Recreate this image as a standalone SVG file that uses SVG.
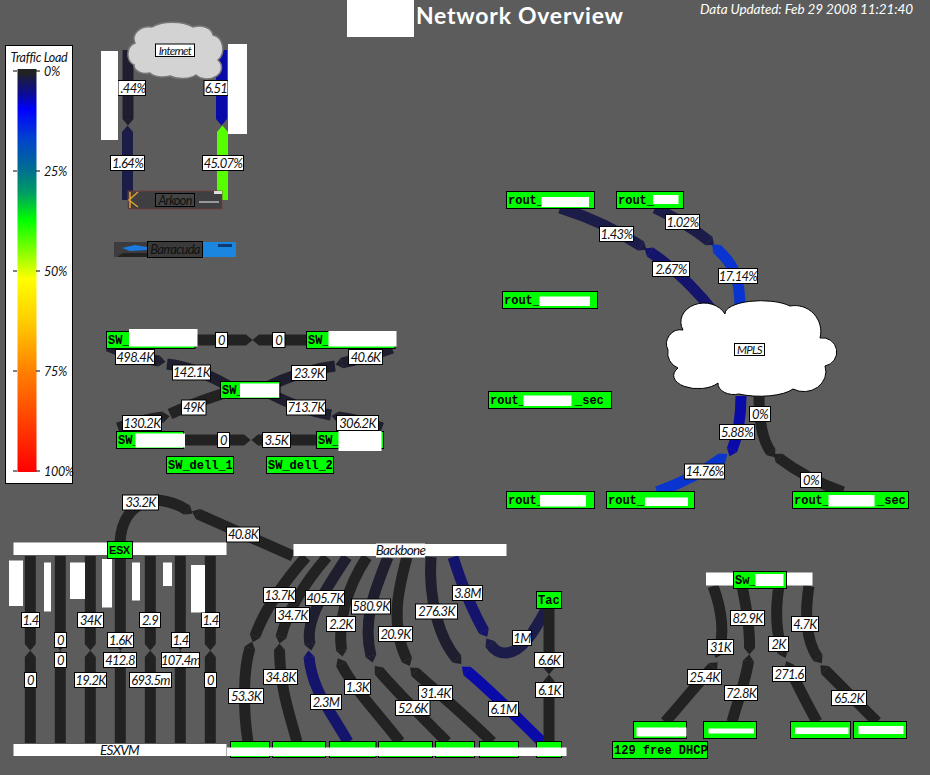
<svg xmlns="http://www.w3.org/2000/svg" width="930" height="775" viewBox="0 0 930 775">
<style>
text{font-family:"Lato","Liberation Sans",sans-serif}
.l{fill:none;stroke-width:11}
.dk{stroke:#222222;marker-end:url(#tdk)}
.n1{stroke:#1e1e2e;marker-end:url(#tn1)}
.n2{stroke:#1c1c48;marker-end:url(#tn2)}
.n3{stroke:#14146c;marker-end:url(#tn3)}
.b1{stroke:#0a0aa8;marker-end:url(#tb1)}
.b2{stroke:#0a34d0;marker-end:url(#tb2)}
.g1{stroke:#55ff00;marker-end:url(#tg1)}
.lb rect{fill:#fff;stroke:#000;stroke-width:1}
.lb text{font-size:13px;font-style:italic;fill:#111;text-anchor:middle;letter-spacing:-.7px}
.n rect.f{fill:#00ff00;stroke:#000;stroke-width:1}
.n text{font-family:"Liberation Mono","DejaVu Sans Mono",monospace;font-size:12px;font-weight:bold;fill:#000}
.m{fill:#fff}
.sub{font-size:13.5px;font-style:italic;fill:#111;text-anchor:middle;letter-spacing:-.7px}
.lg{font-size:12.5px;font-style:italic;fill:#111;letter-spacing:-.3px}
</style>
<defs>
<marker id="tdk" markerWidth="1" markerHeight="1" refX="0" refY=".5" viewBox="0 0 1 1" orient="auto" overflow="visible"><path d="M0 0L.6 .5L0 1Z" fill="#222222"/></marker>
<marker id="tn1" markerWidth="1" markerHeight="1" refX="0" refY=".5" viewBox="0 0 1 1" orient="auto" overflow="visible"><path d="M0 0L.6 .5L0 1Z" fill="#1e1e2e"/></marker>
<marker id="tn2" markerWidth="1" markerHeight="1" refX="0" refY=".5" viewBox="0 0 1 1" orient="auto" overflow="visible"><path d="M0 0L.6 .5L0 1Z" fill="#1c1c48"/></marker>
<marker id="tn3" markerWidth="1" markerHeight="1" refX="0" refY=".5" viewBox="0 0 1 1" orient="auto" overflow="visible"><path d="M0 0L.6 .5L0 1Z" fill="#14146c"/></marker>
<marker id="tb1" markerWidth="1" markerHeight="1" refX="0" refY=".5" viewBox="0 0 1 1" orient="auto" overflow="visible"><path d="M0 0L.6 .5L0 1Z" fill="#0a0aa8"/></marker>
<marker id="tb2" markerWidth="1" markerHeight="1" refX="0" refY=".5" viewBox="0 0 1 1" orient="auto" overflow="visible"><path d="M0 0L.6 .5L0 1Z" fill="#0a34d0"/></marker>
<marker id="tg1" markerWidth="1" markerHeight="1" refX="0" refY=".5" viewBox="0 0 1 1" orient="auto" overflow="visible"><path d="M0 0L.6 .5L0 1Z" fill="#55ff00"/></marker>
<linearGradient id="load" x1="0" y1="0" x2="0" y2="1">
<stop offset="0" stop-color="#222222"/><stop offset=".012" stop-color="#222222"/><stop offset=".02" stop-color="#1c1c40"/><stop offset=".06" stop-color="#0c0c90"/><stop offset=".1" stop-color="#0000ff"/><stop offset=".17" stop-color="#0040d0"/><stop offset=".25" stop-color="#006f90"/><stop offset=".31" stop-color="#00a060"/><stop offset=".375" stop-color="#00ff00"/><stop offset=".45" stop-color="#80ff00"/><stop offset=".52" stop-color="#ffff00"/><stop offset=".62" stop-color="#ffd000"/><stop offset=".75" stop-color="#ff8000"/><stop offset="1" stop-color="#ff0000"/>
</linearGradient>
</defs>
<rect width="930" height="775" fill="#5c5c5c"/>

<g id="title">
<rect x="347" y="0" width="67" height="37" fill="#fff"/>
<text x="416" y="24" font-size="23" font-weight="bold" fill="#fff" letter-spacing=".75">Network Overview</text>
<text x="700" y="14" font-size="13.5" font-style="italic" fill="#fff" letter-spacing="-.1">Data Updated: Feb 29 2008 11:21:40</text>
</g>

<g id="legend">
<rect x="5.500" y="45.500" width="67" height="438" fill="#fff" stroke="#000"/>
<text x="39" y="62" class="lg" text-anchor="middle">Traffic Load</text>
<rect x="17.500" y="69" width="19" height="403" fill="url(#load)"/>
<path d="M13 71H17M36 71H40M13 171H17M36 171H40M13 271H17M36 271H40M13 371H17M36 371H40M13 471H17M36 471H40" stroke="#000" fill="none"/>
<text x="44" y="75.500" class="lg">0%</text>
<text x="44" y="175.500" class="lg">25%</text>
<text x="44" y="275.500" class="lg">50%</text>
<text x="44" y="375.500" class="lg">75%</text>
<text x="44" y="475.500" class="lg">100%</text>
</g>

<g id="connectors">
<path class="l n1" d="M128 50V119"/>
<path class="l n2" d="M127.500 200V132"/>
<path class="l b1" d="M221.500 50V119"/>
<path class="l g1" d="M222.500 200V132"/>

<path class="l n2" d="M560 208Q605 222 641 246"/>
<path class="l n3" d="M716 315Q685 275 650 252"/>
<path class="l n2" d="M655 208Q685 222 709 241"/>
<path class="l b2" d="M740 308C740 280 735 265 717 249"/>
<path class="l b1" d="M741 396C741 420 738 435 732 450"/>
<path class="l b2" d="M657 492Q695 478 722 458"/>
<path class="l dk" d="M759 396C759 420 762 440 771 452"/>
<path class="l dk" d="M843 492Q805 478 779 458"/>

<path class="l dk" d="M195 340H246"/>
<path class="l dk" d="M307 340H259"/>
<path class="l n1" d="M108 346Q135 358 159 361"/>
<path class="l n1" d="M167 364Q200 368 235 390"/>
<path class="l n1" d="M392 348Q365 358 342 363"/>
<path class="l n1" d="M335 366Q300 370 265 388"/>
<path class="l dk" d="M118 428Q140 420 163 417"/>
<path class="l dk" d="M170 414Q200 400 235 390"/>
<path class="l n1" d="M382 428Q360 420 338 417"/>
<path class="l n1" d="M331 415Q300 410 265 391"/>
<path class="l dk" d="M183 440H244"/>
<path class="l dk" d="M317 440H258"/>

<path class="l dk" d="M120 542C121 525 128 502 158 500Q175 502 187 510"/>
<path class="l dk" d="M293 556L198 514"/>

<path class="l dk" d="M30.300 556V644"/><path class="l dk" d="M30.300 743V657"/>
<path class="l dk" d="M60.300 556V644"/><path class="l dk" d="M60.300 743V657"/>
<path class="l dk" d="M90.300 556V644"/><path class="l dk" d="M90.300 743V657"/>
<path class="l dk" d="M120.300 556V644"/><path class="l dk" d="M120.300 743V657"/>
<path class="l dk" d="M150.300 556V644"/><path class="l dk" d="M150.300 743V657"/>
<path class="l dk" d="M180.300 556V644"/><path class="l dk" d="M180.300 743V657"/>
<path class="l dk" d="M210.300 556V644"/><path class="l dk" d="M210.300 743V657"/>

<path class="l dk" d="M306 557Q268 600 255 636"/>
<path class="l dk" d="M248 742C243 710 243 670 250 648"/>
<path class="l dk" d="M327 557Q290 600 281 637"/>
<path class="l dk" d="M297 742C290 715 280 690 279.500 650"/>
<path class="l n1" d="M347 557C325 590 305 620 310 644"/>
<path class="l n3" d="M348 742C330 710 312 690 309 657"/>
<path class="l dk" d="M367 557C345 590 338 625 341.500 650"/>
<path class="l dk" d="M400 742C375 710 355 690 341 664"/>
<path class="l n1" d="M388 557C375 590 362 620 371 656"/>
<path class="l dk" d="M447 742C420 715 395 690 379 671"/>
<path class="l dk" d="M407 557C398 590 390 625 407 660"/>
<path class="l dk" d="M492 742C470 720 435 690 415 672"/>
<path class="l n1" d="M431 557C428 600 440 640 457 659"/>
<path class="l b1" d="M542 742C520 720 490 690 467 671"/>
<path class="l n3" d="M453 557C462 585 472 610 484 631"/>
<path class="l n2" d="M547 608C535 630 522 653 505 653C497 653 492 647 490 644"/>
<path class="l dk" d="M549 608V668"/>
<path class="l dk" d="M549 742V681"/>

<path class="l dk" d="M713 586C722 610 725 635 718 652"/>
<path class="l dk" d="M665 722C685 700 700 680 713 667"/>
<path class="l dk" d="M742 586C746 605 750 625 749.500 648"/>
<path class="l dk" d="M732 722C738 700 746 680 748.500 661"/>
<path class="l dk" d="M779 586C775 610 776 635 783 652"/>
<path class="l dk" d="M817 722C805 700 795 680 789 667"/>
<path class="l dk" d="M809 586C805 610 805 640 818 658"/>
<path class="l dk" d="M877 722C860 705 840 685 825 670"/>

<g class="lb">
<rect x="118" y="80.500" width="27.500" height="15"/><text x="133" y="92.500">.44%</text>
<rect x="204" y="80.500" width="24" height="15"/><text x="216" y="92.500">6.51</text>
<rect x="110.500" y="155.500" width="34" height="15"/><text x="127.500" y="167.500">1.64%</text>
<rect x="202.500" y="155.500" width="41" height="15"/><text x="223" y="167.500">45.07%</text>

<rect x="599.500" y="226.500" width="34" height="15"/><text x="616.500" y="238.500">1.43%</text>
<rect x="665.500" y="214.500" width="34" height="15"/><text x="682.500" y="226.500">1.02%</text>
<rect x="652.500" y="261.500" width="37" height="15"/><text x="671" y="273.500">2.67%</text>
<rect x="718.500" y="268.500" width="39" height="15"/><text x="738" y="280.500">17.14%</text>
<rect x="749.500" y="406.500" width="21" height="15"/><text x="760" y="418.500">0%</text>
<rect x="719.500" y="424.500" width="35" height="15"/><text x="737" y="436.500">5.88%</text>
<rect x="684.500" y="464" width="40" height="15"/><text x="704.500" y="476">14.76%</text>
<rect x="800.500" y="472.500" width="21" height="15"/><text x="811" y="484.500">0%</text>

<rect x="215.500" y="332.500" width="12" height="15"/><text x="221.500" y="344.500">0</text>
<rect x="272.500" y="332.500" width="12.500" height="15"/><text x="278.700" y="344.500">0</text>
<rect x="115.500" y="349.500" width="39" height="15"/><text x="135" y="361.500">498.4K</text>
<rect x="172.500" y="365" width="38" height="15"/><text x="191.500" y="377">142.1K</text>
<rect x="348.500" y="349.500" width="34" height="15"/><text x="365.500" y="361.500">40.6K</text>
<rect x="291.500" y="365.500" width="35" height="15"/><text x="309" y="377.500">23.9K</text>
<rect x="181.500" y="400" width="24.500" height="15"/><text x="193.700" y="412">49K</text>
<rect x="122.500" y="415.500" width="39" height="15"/><text x="142" y="427.500">130.2K</text>
<rect x="286.500" y="400" width="39" height="15"/><text x="306" y="412">713.7K</text>
<rect x="336.500" y="415.500" width="42" height="15"/><text x="357.500" y="427.500">306.2K</text>
<rect x="217.500" y="432.500" width="12" height="15"/><text x="223.500" y="444.500">0</text>
<rect x="262.500" y="432.500" width="28" height="15"/><text x="276.500" y="444.500">3.5K</text>

<rect x="122.500" y="495" width="36" height="15"/><text x="140.500" y="507">33.2K</text>
<rect x="226.500" y="527" width="33" height="15"/><text x="243" y="539">40.8K</text>

<rect x="21.500" y="612.500" width="18" height="15"/><text x="30.500" y="624.500">1.4</text>
<rect x="77.500" y="612.500" width="26" height="15"/><text x="90.500" y="624.500">34K</text>
<rect x="139.500" y="612.500" width="21" height="15"/><text x="150" y="624.500">2.9</text>
<rect x="201.500" y="612.500" width="18" height="15"/><text x="210.500" y="624.500">1.4</text>
<rect x="54.500" y="632.500" width="12" height="15"/><text x="60.500" y="644.500">0</text>
<rect x="107.500" y="632.500" width="26" height="15"/><text x="120.500" y="644.500">1.6K</text>
<rect x="171.500" y="632.500" width="18" height="15"/><text x="180.500" y="644.500">1.4</text>
<rect x="54.500" y="652.500" width="12" height="15"/><text x="60.500" y="664.500">0</text>
<rect x="103.500" y="652.500" width="33" height="15"/><text x="120" y="664.500">412.8</text>
<rect x="161.500" y="652.500" width="38" height="15"/><text x="180.500" y="664.500">107.4m</text>
<rect x="24.500" y="672.500" width="12" height="15"/><text x="30.500" y="684.500">0</text>
<rect x="74.500" y="672.500" width="32" height="15"/><text x="90.500" y="684.500">19.2K</text>
<rect x="129.500" y="672.500" width="42" height="15"/><text x="150.500" y="684.500">693.5m</text>
<rect x="204.500" y="672.500" width="12" height="15"/><text x="210.500" y="684.500">0</text>

<rect x="263.500" y="587.500" width="32" height="15"/><text x="279.500" y="599.500">13.7K</text>
<rect x="275.500" y="607.500" width="34" height="15"/><text x="292.500" y="619.500">34.7K</text>
<rect x="305.500" y="590.500" width="39" height="15"/><text x="325" y="602.500">405.7K</text>
<rect x="326.500" y="616.500" width="29" height="15"/><text x="341" y="628.500">2.2K</text>
<rect x="351.500" y="599" width="39" height="15"/><text x="371" y="611">580.9K</text>
<rect x="378.500" y="626.500" width="34" height="15"/><text x="395.500" y="638.500">20.9K</text>
<rect x="415.500" y="604" width="42" height="15"/><text x="436.500" y="616">276.3K</text>
<rect x="452.500" y="585.500" width="30" height="15"/><text x="467.500" y="597.500">3.8M</text>
<rect x="512.500" y="630.500" width="19" height="15"/><text x="522" y="642.500">1M</text>
<rect x="534.500" y="652.500" width="29" height="15"/><text x="549" y="664.500">6.6K</text>
<rect x="535.500" y="682.500" width="28" height="15"/><text x="549.500" y="694.500">6.1K</text>
<rect x="263.500" y="669.500" width="34" height="15"/><text x="280.500" y="681.500">34.8K</text>
<rect x="228.500" y="688.500" width="35" height="15"/><text x="246" y="700.500">53.3K</text>
<rect x="344.500" y="679.500" width="26" height="15"/><text x="357.500" y="691.500">1.3K</text>
<rect x="310.500" y="694.500" width="31" height="15"/><text x="326" y="706.500">2.3M</text>
<rect x="418.500" y="685.500" width="34" height="15"/><text x="435.500" y="697.500">31.4K</text>
<rect x="395.500" y="700.500" width="34.500" height="15"/><text x="412.700" y="712.500">52.6K</text>
<rect x="488.500" y="701.500" width="30" height="15"/><text x="503.500" y="713.500">6.1M</text>

<rect x="730.500" y="610.500" width="34" height="15"/><text x="747.500" y="622.500">82.9K</text>
<rect x="791.500" y="616.500" width="27" height="15"/><text x="805" y="628.500">4.7K</text>
<rect x="768.500" y="636.500" width="20" height="15"/><text x="778.500" y="648.500">2K</text>
<rect x="707.500" y="639.500" width="26" height="15"/><text x="720.500" y="651.500">31K</text>
<rect x="687.500" y="669.500" width="34" height="15"/><text x="704.500" y="681.500">25.4K</text>
<rect x="772.500" y="666.500" width="33" height="15"/><text x="789" y="678.500">271.6</text>
<rect x="724.500" y="685.500" width="33" height="15"/><text x="741" y="697.500">72.8K</text>
<rect x="831.500" y="690.500" width="35" height="15"/><text x="849" y="702.500">65.2K</text>
</g>
</g>

<g id="node-internet">
<rect class="m" x="101" y="51" width="17" height="89"/>
<rect class="m" x="228" y="44" width="19" height="90"/>
<path d="M134 65A11 12 0 0 1 135 43A15 12 0 0 1 152 27A24 10 0 0 1 193 27A14 10 0 0 1 213 35A12 14 0 0 1 218 60A14 11 0 0 1 196 75A16 7 0 0 1 170 76A14 7 0 0 1 150 73A12 8 0 0 1 134 65Z" fill="#d3d3d3" stroke="#777" stroke-width="1.500"/>
<g class="lb"><rect x="155.500" y="44" width="39" height="12.500"/><text x="175" y="54.500" style="font-size:11.500px">Internet</text></g>
</g>

<g id="node-arkoon">
<rect x="128" y="191" width="94" height="18" fill="#3f3f42" stroke="#7a3d3d" stroke-width=".8"/>
<path d="M138 192L129 200L138 207M130 192V208" stroke="#e0a030" stroke-width="1.500" fill="none"/>
<rect x="199" y="201" width="20" height="2" fill="#999"/>
<rect x="214" y="191" width="8" height="3" fill="#ddd"/>
<g class="lb"><rect x="155.500" y="193.500" width="39" height="13" style="fill:#444"/><text x="175" y="204.500" style="fill:#111;font-size:12.500px">Arkoon</text></g>
</g>

<g id="node-barracuda">
<rect x="114" y="242" width="34" height="15" fill="#3c3c3e"/>
<path d="M122 248L135 245L147 247V250L130 251Z" fill="#1a7ae0"/>
<path d="M117 257L123 253H147V257Z" fill="#222"/>
<rect x="203" y="242" width="33" height="15" fill="#1a86e0"/>
<rect x="218" y="244" width="14" height="3" fill="#103a70"/>
<g class="lb"><rect x="147.500" y="241.500" width="55" height="16" style="fill:#3a3a3a"/><text x="175" y="254" style="fill:#111;font-size:13px">Barracuda</text></g>
</g>

<g id="node-mpls">
<path d="M678 368A16 16 0 0 1 668 350A14 14 0 0 1 683 330A22 18 0 0 1 725 314A36 13 0 0 1 790 306A26 26 0 0 1 820 338A13 13 0 0 1 825 366A22 20 0 0 1 793 389A36 12 0 0 1 739 394A16 11 0 0 1 718 383A24 13 0 0 1 678 368Z" fill="#fff" stroke="#000"/>
<g class="lb"><rect x="734.500" y="343.500" width="30" height="12"/><text x="749.500" y="354" style="font-size:11.500px">MPLS</text></g>
</g>

<g id="node-rout-1" class="n"><rect class="f" x="506.500" y="191.500" width="88" height="17"/><text x="508" y="204">rout_</text><rect class="m" x="541.500" y="197" width="47.500" height="10"/></g>
<g id="node-rout-2" class="n"><rect class="f" x="616.500" y="191.500" width="67" height="17"/><text x="618" y="204">rout_</text><rect class="m" x="653" y="195" width="25.500" height="9"/></g>
<g id="node-rout-3" class="n"><rect class="f" x="502.500" y="291.500" width="95" height="17"/><text x="504" y="304">rout_</text><rect class="m" x="539.500" y="296.500" width="50.500" height="9.500"/></g>
<g id="node-rout-4" class="n"><rect class="f" x="488.500" y="391.500" width="123" height="17"/><text x="490" y="404">rout_</text><text x="575" y="404">_sec</text><rect class="m" x="523.500" y="395.500" width="48" height="10.500"/></g>
<g id="node-rout-5" class="n"><rect class="f" x="506.500" y="491.500" width="88" height="17"/><text x="508" y="504">rout_</text><rect class="m" x="540" y="495" width="46" height="11.500"/></g>
<g id="node-rout-6" class="n"><rect class="f" x="606.500" y="491.500" width="88" height="17"/><text x="608" y="504">rout_</text><rect class="m" x="645" y="497.500" width="43" height="8.500"/></g>
<g id="node-rout-7" class="n"><rect class="f" x="792.500" y="491.500" width="116" height="17"/><text x="794" y="504">rout_</text><text x="877" y="504">_sec</text><rect class="m" x="828.500" y="495" width="46" height="11.500"/></g>

<g id="node-sw-tl" class="n"><rect class="f" x="106.500" y="331.500" width="88.500" height="17"/><text x="108" y="344">SW_</text><rect class="m" x="129" y="329" width="68.500" height="17.500"/></g>
<g id="node-sw-tr" class="n"><rect class="f" x="306.500" y="331.500" width="88.500" height="17"/><text x="308" y="344">SW_</text><rect class="m" x="328.500" y="331" width="68" height="15.500"/></g>
<g id="node-sw-c" class="n"><rect class="f" x="220.500" y="381.500" width="59.500" height="17"/><text x="222" y="394">SW_</text><rect class="m" x="240" y="383.500" width="39" height="14"/></g>
<g id="node-sw-bl" class="n"><rect class="f" x="116.500" y="431.500" width="67" height="17"/><text x="118" y="444">SW_</text><rect class="m" x="135.500" y="433.500" width="49.500" height="14"/></g>
<g id="node-sw-br" class="n"><rect class="f" x="316.500" y="431.500" width="67" height="17"/><text x="318" y="444">SW_</text><rect class="m" x="338.500" y="431" width="43" height="20"/></g>
<g id="node-sw-dell-1" class="n"><rect class="f" x="166.500" y="456.500" width="67" height="17"/><text x="168" y="469">SW_dell_1</text></g>
<g id="node-sw-dell-2" class="n"><rect class="f" x="266.500" y="456.500" width="67" height="17"/><text x="268" y="469">SW_dell_2</text></g>

<g id="node-esx" class="n">
<rect class="m" x="13.500" y="542.500" width="213" height="12.500"/>
<rect class="f" x="107.500" y="541.500" width="25" height="17"/><text x="109" y="554" style="font-family:'Liberation Sans',sans-serif;font-size:11px;letter-spacing:-.4px">ESX</text>
</g>
<g id="node-esx-masks">
<rect class="m" x="9" y="560.500" width="14" height="45.500"/>
<rect class="m" x="44" y="562.500" width="7" height="49"/>
<rect class="m" x="70" y="562.500" width="15" height="36.500"/>
<rect class="m" x="102" y="559" width="10" height="48.500"/>
<rect class="m" x="132" y="562.500" width="8" height="38"/>
<rect class="m" x="163" y="562.500" width="9" height="23.500"/>
<rect class="m" x="191" y="565" width="14" height="47.500"/>
</g>
<g id="node-esxvm">
<rect class="m" x="13.500" y="744" width="213" height="12"/>
<text x="119.500" y="755" class="sub">ESXVM</text>
</g>
<g id="node-backbone">
<rect class="m" x="293.500" y="544" width="213" height="12"/>
<rect class="m" x="376" y="543.500" width="49" height="14"/>
<text x="400.500" y="555" class="sub">Backbone</text>
</g>
<g id="node-tac" class="n"><rect class="f" x="536.500" y="591.500" width="25" height="17"/><text x="538" y="604">Tac</text></g>

<g id="node-bottom-row" class="n">
<rect class="f" x="230.500" y="741.500" width="39" height="16"/>
<rect class="f" x="272.500" y="741.500" width="53" height="16"/>
<rect class="f" x="329.500" y="741.500" width="46.500" height="16"/>
<rect class="f" x="378.500" y="741.500" width="54" height="16"/>
<rect class="f" x="435.500" y="741.500" width="39" height="16"/>
<rect class="f" x="479.500" y="741.500" width="39" height="16"/>
<rect class="f" x="536.500" y="741.500" width="25" height="16"/>
<rect class="m" x="227" y="747.500" width="339.500" height="8.500"/>
</g>

<g id="node-sw-top" class="n">
<rect class="m" x="706" y="572.500" width="106.500" height="13"/>
<rect class="f" x="733.500" y="571.500" width="53" height="17"/><text x="735" y="584">Sw_</text>
<rect class="m" x="755.500" y="574" width="28" height="12"/>
</g>
<g id="node-e1" class="n"><rect class="f" x="633.500" y="721.500" width="53" height="17"/><rect class="m" x="636.500" y="727.500" width="50" height="9"/></g>
<g id="node-e2" class="n"><rect class="f" x="703.500" y="721.500" width="53" height="17"/><rect class="m" x="708.500" y="728.500" width="45.500" height="5"/></g>
<g id="node-e3" class="n"><rect class="f" x="790.500" y="721.500" width="60" height="17"/><rect class="m" x="795" y="727.500" width="53.500" height="6.500"/></g>
<g id="node-e4" class="n"><rect class="f" x="853.500" y="721.500" width="53" height="17"/><rect class="m" x="858.500" y="726" width="45" height="8"/></g>
<g id="node-dhcp" class="n"><rect class="f" x="612.500" y="741.500" width="95" height="17"/><text x="614" y="754">129 free DHCP</text></g>
</svg>
